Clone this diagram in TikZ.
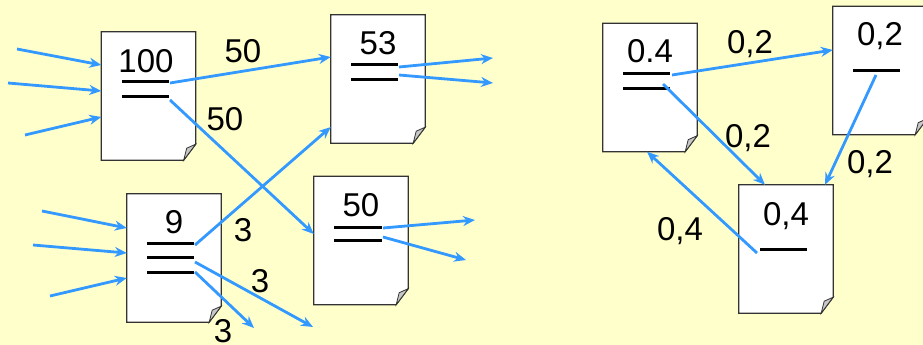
\documentclass[tikz,border=0pt]{standalone}
\usepackage{fontspec}
\setmainfont{Liberation Sans}
\usetikzlibrary{arrows.meta}
\definecolor{bg}{RGB}{255,255,204}
\definecolor{arr}{RGB}{51,153,255}
\definecolor{foldgray}{RGB}{200,200,200}
\tikzset{
  pagebox/.style={minimum width=94pt,minimum height=128pt,inner sep=0pt,draw=none},
  lbl/.style={font=\fontsize{33}{40}\selectfont,anchor=base,inner sep=0pt},
  bar/.style={line width=3pt,black},
  link/.style={line width=2.8pt,arr,-{Stealth[length=12pt,width=10pt]}},
}
\newcommand\pageoutline[1]{%
  \draw[fill=white,draw=black!80,line width=1.2pt] (#1.north west) -- (#1.north east) -- ([yshift=16pt]#1.south east) -- ([xshift=-12pt]#1.south east) -- (#1.south west) -- cycle;
  \filldraw[fill=foldgray,draw=black!80,line width=0.8pt] ([yshift=16pt]#1.south east) -- ([xshift=-12pt]#1.south east) -- ([xshift=-9pt,yshift=12pt]#1.south east) -- cycle;
}
\begin{document}
\begin{tikzpicture}[x=1pt,y=-1pt]
\useasboundingbox (0,0) rectangle (923,345);
\fill[bg] (0,0) rectangle (923,345);
\clip (0,0) rectangle (923,345);
% pages
\node[pagebox] (A) at (148.5,96) {};
\node[pagebox] (B) at (174,258) {};
\node[pagebox] (C) at (378,79) {};
\node[pagebox] (D) at (361,240.5) {};
\node[pagebox] (E) at (650,87.5) {};
\node[pagebox] (F) at (880,70.5) {};
\node[pagebox] (G) at (786,249) {};
\foreach \p in {A,B,C,D,E,F,G} {\pageoutline{\p}}
% page texts
\node[lbl] (tA) at (146,72) {100};
\node[lbl] (tB) at (174,233) {9};
\node[lbl] (tC) at (378,55) {53};
\node[lbl] (tD) at (361,216) {50};
\node[lbl] (tE) at (650,63) {0.4};
\node[lbl] (tF) at (880,46) {0,2};
\node[lbl] (tG) at (786,225) {0,4};
% bars and their end points
\coordinate (a1l) at (122,81); \coordinate (a1) at (169,81);
\coordinate (a2l) at (122,96); \coordinate (a2) at (169,96);
\coordinate (b1l) at (147,243); \coordinate (b1) at (194,243);
\coordinate (b2l) at (147,257); \coordinate (b2) at (194,257);
\coordinate (b3l) at (147,272); \coordinate (b3) at (194,272);
\coordinate (c1l) at (351,65); \coordinate (c1) at (398,65);
\coordinate (c2l) at (351,79); \coordinate (c2) at (398,79);
\coordinate (d1l) at (334,227); \coordinate (d1) at (382,227);
\coordinate (d2l) at (334,240); \coordinate (d2) at (382,240);
\coordinate (e1l) at (623,73); \coordinate (e1) at (670,73);
\coordinate (e2l) at (623,88); \coordinate (e2) at (670,88);
\coordinate (f1l) at (853,70); \coordinate (f1) at (900,70);
\coordinate (g1l) at (760,249); \coordinate (g1) at (807,249);
\foreach \s/\e in {a1l/a1,a2l/a2,b1l/b1,b2l/b2,b3l/b3,c1l/c1,c2l/c2,d1l/d1,d2l/d2,e1l/e1,e2l/e2,f1l/f1,g1l/g1}
  {\draw[bar] (\s) -- (\e);}
% free ends
\coordinate (ia1) at (17,49); \coordinate (ia2) at (8,83); \coordinate (ia3) at (25,135);
\coordinate (ib1) at (42,211); \coordinate (ib2) at (33,245); \coordinate (ib3) at (50,296);
\coordinate (ob1) at (313,327); \coordinate (ob2) at (254,328);
\coordinate (oc1) at (493,58); \coordinate (oc2) at (493,83);
\coordinate (od1) at (475,220); \coordinate (od2) at (466,260);
% left graph connectors
\draw[link] (ia1) -- (A.west |- 0,65);
\draw[link] (ia2) -- (A.west |- 0,91);
\draw[link] (ia3) -- (A.west |- 0,117);
\draw[link] (ib1) -- (B.west |- 0,228);
\draw[link] (ib2) -- (B.west |- 0,253);
\draw[link] (ib3) -- (B.west |- 0,278);
\draw[link] ([shift={(1pt,-2pt)}]a1) -- (C.west |- 0,57);
\draw[link] ([shift={(1pt,-4pt)}]a2) -- (D.west |- 0,234);
\draw[link] ([shift={(1pt,-2pt)}]b1) -- (C.west |- 0,127);
\draw[link] ([shift={(1pt,-5pt)}]b2) -- (ob1);
\draw[link] ([shift={(1pt,0pt)}]b3) -- (ob2);
\draw[link] ([shift={(1pt,-2pt)}]c1) -- (oc1);
\draw[link] ([shift={(1pt,-10pt)}]c1) -- (oc2);
\draw[link] ([shift={(1pt,-1pt)}]d1) -- (od1);
\draw[link] ([shift={(1pt,3pt)}]d2) -- (od2);
% right graph connectors
\draw[link] ([shift={(2pt,-2pt)}]e1) -- (F.west |- 0,50);
\draw[link] ([shift={(-7pt,4pt)}]e2) -- (G.north -| 765,0);
\draw[link] ([shift={(-24pt,-5pt)}]f1) -- (G.north -| 825,0);
\draw[link] ([shift={(-3pt,-4pt)}]g1l) -- (E.south -| 647,0);
% labels
\node[lbl] (l1) at (243,63) {50};
\node[lbl] (l2) at (225,130) {50};
\node[lbl] (l3) at (243,241) {3};
\node[lbl] (l4) at (260,292) {3};
\node[lbl] (l5) at (223,342) {3};
\node[lbl] (l6) at (750,53) {0,2};
\node[lbl] (l7) at (748,147) {0,2};
\node[lbl] (l8) at (870,173) {0,2};
\node[lbl] (l9) at (680,240) {0,4};
\end{tikzpicture}
\end{document}
